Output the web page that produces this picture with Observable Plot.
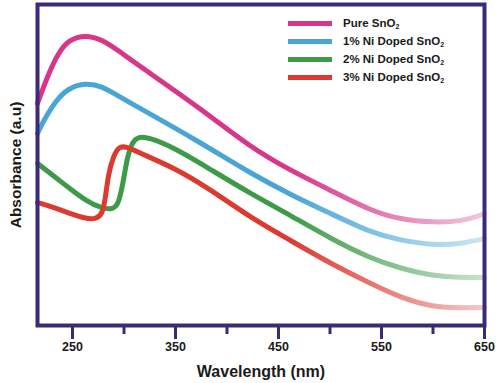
<!DOCTYPE html>
<html>
<head>
<meta charset="utf-8">
<script src="https://cdn.jsdelivr.net/npm/d3@7"></script>
<script src="https://cdn.jsdelivr.net/npm/@observablehq/plot@0.6"></script>
<style>
  body { margin: 0; background: #fff; font-family: "Liberation Sans", Arial, sans-serif; }
  #wrap { position: relative; width: 500px; height: 383px; }
  #legend { position: absolute; left: 288px; top: 14px; font-weight: bold; font-size: 11.5px; color: #1a1a1a; }
  #legend .row { display: flex; align-items: center; height: 18px; }
  #legend .sw { width: 44px; height: 5px; margin-right: 11px; }
  #legend sub { font-size: 7px; vertical-align: -2px; }
</style>
</head>
<body>
<div id="wrap"></div>
<script>
// Series names and colours
const seriesNames = ["Pure SnO2", "1% Ni Doped SnO2", "2% Ni Doped SnO2", "3% Ni Doped SnO2"];
const seriesColors = ["#d8368b", "#4aa5d7", "#3d9b48", "#dc3a31"];

// Wavelength (nm) and absorbance (a.u., arbitrary 0-100) per series
const pureX = [216, 226.7, 236.4, 246.1, 262.6, 279.1, 294.6, 316.0, 374.3, 422.8, 461.6, 500.5, 539.3, 568.4, 600.5, 626.7, 646.1, 650];
const pureY = [69.2, 78.5, 85.0, 89.0, 90.6, 89.0, 85.6, 80.6, 67.6, 55.5, 48.3, 42.1, 35.8, 33.0, 32.1, 32.4, 34.3, 34.9];

const ni1X = [216, 220.9, 233.5, 246.1, 262.6, 279.1, 294.6, 316.0, 374.3, 422.8, 461.6, 500.5, 539.3, 568.4, 600.5, 626.7, 650];
const ni1Y = [59.8, 63.2, 70.0, 74.0, 75.6, 74.5, 71.4, 67.6, 57.0, 47.4, 40.8, 34.9, 29.0, 26.5, 25.0, 25.4, 27.1];

const ni2X = [216, 233.5, 246.1, 262.6, 279.1, 288.8, 294.6, 299.5, 303.4, 308.2, 314.1, 323.8, 348.0, 381.0, 422.8, 461.6, 500.5, 539.3, 568.4, 600.5, 626.7, 650];
const ni2Y = [50.5, 46.1, 43.0, 38.9, 36.4, 36.2, 37.5, 45.2, 52.8, 57.3, 58.8, 58.6, 55.5, 49.2, 41.1, 34.3, 27.1, 20.9, 17.8, 15.4, 14.9, 15.0];

const ni3X = [216, 233.5, 246.1, 262.6, 272.3, 279.1, 282, 284.9, 289.8, 294.6, 301.4, 316.0, 348.0, 381.0, 422.8, 461.6, 500.5, 539.3, 568.4, 600.5, 626.7, 650];
const ni3Y = [38.3, 36.6, 35.0, 33.3, 33.1, 34.6, 39.9, 47.4, 52.8, 55.6, 55.9, 53.6, 49.2, 43.0, 33.6, 26.5, 19.3, 13.1, 8.7, 5.7, 5.5, 5.6];

// Axis ticks
const majorTicks = [250, 350, 450, 550, 650];
const minorTicks = [300, 400, 500, 600];

const purple = "#3b2a78";
const xs = [pureX, ni1X, ni2X, ni3X];
const ys = [pureY, ni1Y, ni2Y, ni3Y];
const tables = xs.map((xa, i) => xa.map((x, j) => ({x, y: ys[i][j]})));

const chart = Plot.plot({
  width: 500,
  height: 383,
  marginLeft: 37,
  marginRight: 16,
  marginTop: 4,
  marginBottom: 58,
  x: {domain: [216, 650]},
  y: {domain: [0, 100], axis: null},
  style: {fontFamily: "'Liberation Sans', Arial, sans-serif", background: "#fff"},
  marks: [
    ...tables.map((t, i) => Plot.line(t, {x: "x", y: "y", curve: "basis", stroke: seriesColors[i], strokeWidth: 5})),
    Plot.axisX(minorTicks, {tickSize: 9, strokeWidth: 3, stroke: purple, tickFormat: () => "", label: null}),
    Plot.axisX(majorTicks, {tickSize: 14, tickPadding: 3, strokeWidth: 3, stroke: purple, fill: "#1a1a1a",
      fontSize: 12.5, fontWeight: "bold", tickFormat: d => String(d), label: null}),
    Plot.frame({stroke: purple, strokeWidth: 4}),
    Plot.text(["Wavelength (nm)"], {frameAnchor: "bottom", dy: 51, text: d => d, fontSize: 16, fontWeight: "bold", fill: "#1a1a1a"}),
    Plot.text(["Absorbance (a.u)"], {frameAnchor: "left", dx: -21, rotate: -90, textAnchor: "middle", text: d => d, fontSize: 15.5, fontWeight: "bold", fill: "#1a1a1a"})
  ]
});

// Fading gradients toward long wavelengths
const xScale = chart.scale("x");
const svg = d3.select(chart.tagName.toLowerCase() === "svg" ? chart : chart.querySelector("svg"));
const defs = svg.insert("defs", ":first-child");
const fadeStart = 460, fadeEnd = 650;
seriesColors.forEach((c, i) => {
  const g = defs.append("linearGradient").attr("id", "fade" + i)
    .attr("gradientUnits", "userSpaceOnUse")
    .attr("x1", xScale.apply(fadeStart)).attr("x2", xScale.apply(fadeEnd))
    .attr("y1", 0).attr("y2", 0);
  g.append("stop").attr("offset", 0).attr("stop-color", c).attr("stop-opacity", 1);
  g.append("stop").attr("offset", 1).attr("stop-color", c).attr("stop-opacity", 0.28);
});
svg.selectAll('g[aria-label="line"]').each(function(_, i) {
  d3.select(this).selectAll("path").attr("stroke", `url(#fade${i})`);
  d3.select(this).attr("stroke", `url(#fade${i})`);
});

const wrap = document.getElementById("wrap");
wrap.appendChild(chart);

// Legend
const legend = document.createElement("div");
legend.id = "legend";
seriesNames.forEach((name, i) => {
  const row = document.createElement("div");
  row.className = "row";
  const sw = document.createElement("span");
  sw.className = "sw";
  sw.style.background = seriesColors[i];
  const label = document.createElement("span");
  label.innerHTML = name.replace(/SnO2$/, "SnO<sub>2</sub>");
  row.appendChild(sw);
  row.appendChild(label);
  legend.appendChild(row);
});
wrap.appendChild(legend);
</script>
</body>
</html>
